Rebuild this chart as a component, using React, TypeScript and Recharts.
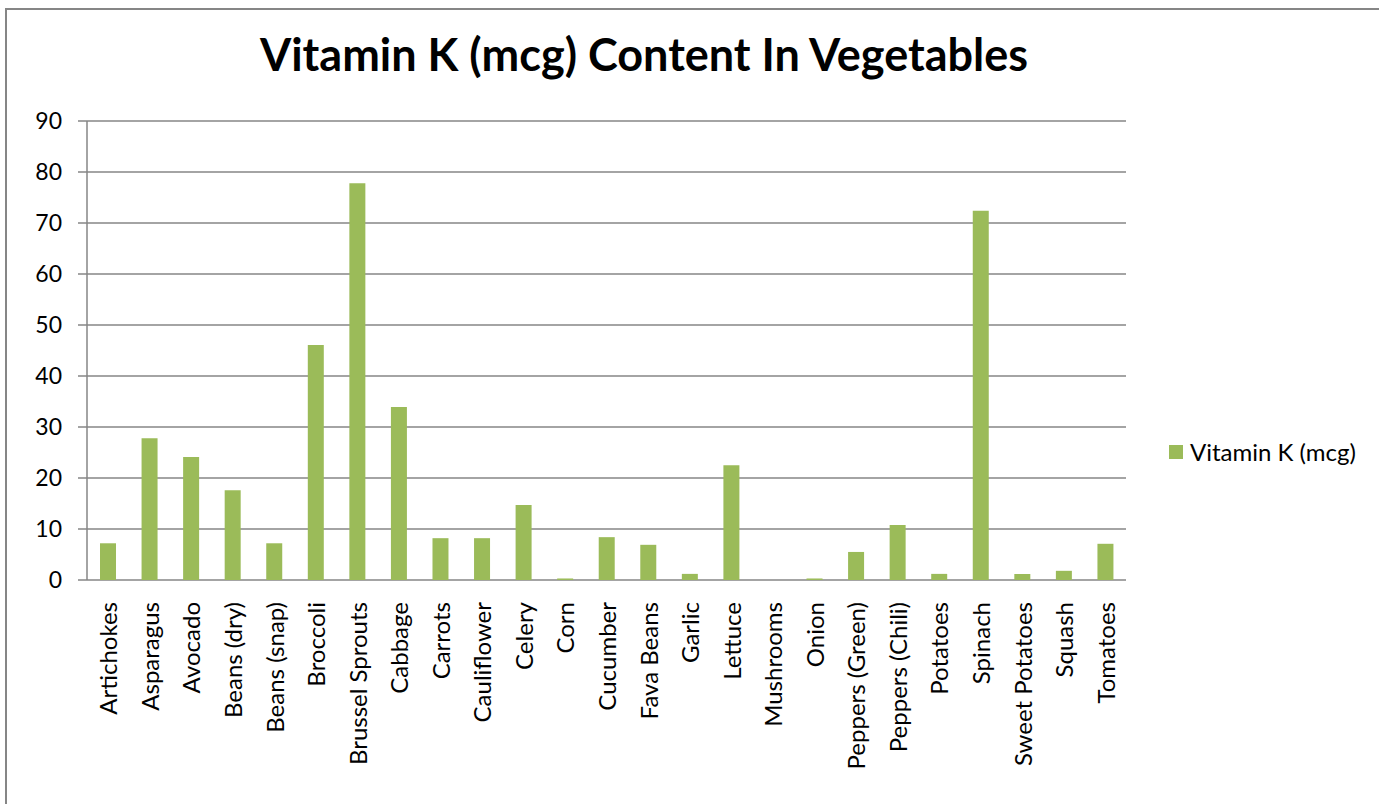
import { BarChart, Bar, XAxis, YAxis, CartesianGrid } from 'recharts';

const vegetables = [
  'Artichokes', 'Asparagus', 'Avocado', 'Beans (dry)', 'Beans (snap)', 'Broccoli',
  'Brussel Sprouts', 'Cabbage', 'Carrots', 'Cauliflower', 'Celery', 'Corn',
  'Cucumber', 'Fava Beans', 'Garlic', 'Lettuce', 'Mushrooms', 'Onion',
  'Peppers (Green)', 'Peppers (Chili)', 'Potatoes', 'Spinach', 'Sweet Potatoes',
  'Squash', 'Tomatoes',
];

const vitaminK = [
  7.2, 27.8, 24.1, 17.6, 7.2, 46.1,
  77.8, 33.9, 8.2, 8.2, 14.7, 0.3,
  8.4, 6.9, 1.2, 22.5, 0, 0.3,
  5.5, 10.8, 1.2, 72.4, 1.2,
  1.8, 7.1,
];

const yTicks = [0, 10, 20, 30, 40, 50, 60, 70, 80, 90];
const boundaryTicks = vegetables.map((_, i) => i).concat([vegetables.length]);

const data = vegetables.map((name, i) => ({ name, value: vitaminK[i] }));

const FONT = 'Lato, "Noto Sans", sans-serif';
const GRID = '#868686';
const GREEN = '#9BBB59';

const CategoryTick = (props: any) => {
  const { x, y, payload } = props;
  return (
    <text
      transform={`translate(${x},${y + 14}) rotate(-90)`}
      textAnchor="end"
      dominantBaseline="central"
      fontFamily={FONT}
      fontSize={24}
      fill="#000"
    >
      {payload.value}
    </text>
  );
};

export default function App() {
  return (
    <div style={{ position: 'fixed', left: 0, top: 0, width: 1379, height: 804, overflow: 'hidden', background: '#fff' }}>
      <div
        style={{
          position: 'absolute', left: 5, top: 8, width: 1420, height: 840,
          border: `2px solid ${GRID}`, boxSizing: 'border-box',
        }}
      />
      <div
        style={{
          position: 'absolute', left: 0, top: 27, width: 1288, textAlign: 'center',
          fontFamily: FONT, fontWeight: 700, fontSize: 45, color: '#000',
        }}
      >
        Vitamin K (mcg) Content In Vegetables
      </div>
      <div style={{ position: 'absolute', left: 0, top: 0 }}>
        <BarChart
          width={1379}
          height={804}
          data={data}
          margin={{ top: 121, right: 253, bottom: 0, left: 27 }}
          barSize={16}
        >
          <CartesianGrid vertical={false} stroke={GRID} strokeWidth={1.3} />
          <XAxis
            xAxisId="bounds"
            type="number"
            domain={[0, vegetables.length]}
            ticks={boundaryTicks}
            height={0}
            tick={false}
            tickLine={{ stroke: GRID, strokeWidth: 1.5 }}
            tickSize={8}
            axisLine={{ stroke: GRID, strokeWidth: 1.5 }}
          />
          <XAxis
            dataKey="name"
            interval={0}
            height={224}
            tickLine={false}
            axisLine={false}
            tick={<CategoryTick />}
          />
          <YAxis
            domain={[0, 90]}
            ticks={yTicks}
            width={60}
            tickSize={9}
            tickMargin={16}
            tickLine={{ stroke: GRID, strokeWidth: 1.5 }}
            axisLine={{ stroke: GRID, strokeWidth: 1.5 }}
            tick={{ fontFamily: FONT, fontSize: 23, fill: '#000' }}
          />
          <Bar dataKey="value" name="Vitamin K (mcg)" fill={GREEN} isAnimationActive={false} />
        </BarChart>
      </div>
      <div
        style={{
          position: 'absolute', left: 1169, top: 437, display: 'flex', alignItems: 'center',
          fontFamily: FONT, fontSize: 24, color: '#000', whiteSpace: 'nowrap',
        }}
      >
        <span style={{ width: 14, height: 14, background: GREEN, marginRight: 7, display: 'inline-block' }} />
        <span>Vitamin K (mcg)</span>
      </div>
    </div>
  );
}
